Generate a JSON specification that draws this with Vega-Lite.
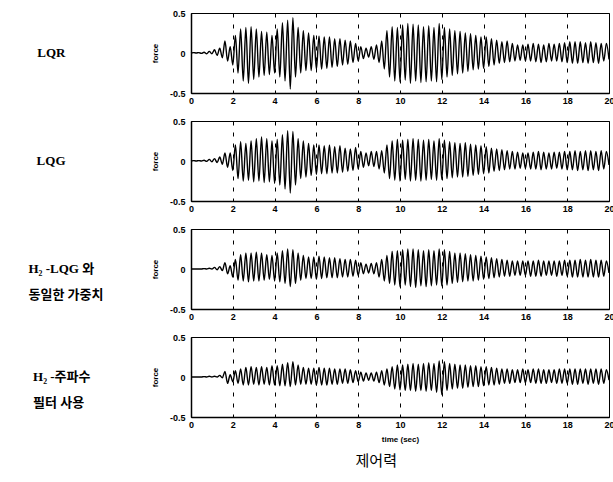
{
"$schema":"https://vega.github.io/schema/vega-lite/v6.json",
"padding":{"left":27,"top":8,"right":0,"bottom":0},
"background":"white",
"config":{
 "view":{"stroke":"black","strokeWidth":1},
 "axis":{"domainColor":"black","domainWidth":1.5,"ticks":false,"labelFont":"Liberation Sans","labelFontWeight":"bold","labelFontSize":9,"labelColor":"black","titleFont":"Liberation Sans","titleFontWeight":"bold","titleFontSize":8,"titleColor":"black"},
 "concat":{"spacing":10}
},
"data":{"values":[
{"t":0,"a":0,"b":0,"c":0,"d":0},
{"t":0.125,"a":0.005,"b":0.005,"c":0,"d":0},
{"t":0.25,"a":0,"b":0,"c":0,"d":0},
{"t":0.375,"a":0.005,"b":0.005,"c":0,"d":0},
{"t":0.5,"a":-0.005,"b":0,"c":0,"d":0},
{"t":0.625,"a":0.01,"b":0.01,"c":0.005,"d":0.005},
{"t":0.75,"a":-0.01,"b":-0.005,"c":0,"d":0},
{"t":0.875,"a":0.02,"b":0.02,"c":0.01,"d":0.01},
{"t":1,"a":-0.01,"b":-0.01,"c":0,"d":0},
{"t":1.125,"a":0.04,"b":0.03,"c":0.02,"d":0.01},
{"t":1.25,"a":-0.03,"b":-0.02,"c":-0.01,"d":0},
{"t":1.375,"a":0.06,"b":0.05,"c":0.03,"d":0.02},
{"t":1.5,"a":-0.06,"b":-0.04,"c":-0.02,"d":-0.01},
{"t":1.625,"a":0.15,"b":0.1,"c":0.08,"d":0.07},
{"t":1.75,"a":-0.1,"b":-0.08,"c":-0.06,"d":-0.08},
{"t":1.875,"a":0.08,"b":0.1,"c":0.04,"d":0.03},
{"t":2,"a":-0.15,"b":-0.12,"c":-0.1,"d":-0.06},
{"t":2.125,"a":0.22,"b":0.2,"c":0.12,"d":0.08},
{"t":2.25,"a":-0.25,"b":-0.22,"c":-0.14,"d":-0.08},
{"t":2.375,"a":0.3,"b":0.24,"c":0.18,"d":0.1},
{"t":2.5,"a":-0.35,"b":-0.25,"c":-0.15,"d":-0.1},
{"t":2.625,"a":0.32,"b":0.22,"c":0.2,"d":0.12},
{"t":2.75,"a":-0.38,"b":-0.24,"c":-0.16,"d":-0.1},
{"t":2.875,"a":0.33,"b":0.25,"c":0.2,"d":0.13},
{"t":3,"a":-0.33,"b":-0.26,"c":-0.15,"d":-0.09},
{"t":3.125,"a":0.3,"b":0.28,"c":0.21,"d":0.12},
{"t":3.25,"a":-0.3,"b":-0.25,"c":-0.15,"d":-0.1},
{"t":3.375,"a":0.27,"b":0.3,"c":0.2,"d":0.13},
{"t":3.5,"a":-0.28,"b":-0.27,"c":-0.14,"d":-0.09},
{"t":3.625,"a":0.26,"b":0.28,"c":0.18,"d":0.12},
{"t":3.75,"a":-0.27,"b":-0.26,"c":-0.13,"d":-0.1},
{"t":3.875,"a":0.22,"b":0.25,"c":0.17,"d":0.14},
{"t":4,"a":-0.25,"b":-0.28,"c":-0.15,"d":-0.1},
{"t":4.125,"a":0.3,"b":0.27,"c":0.2,"d":0.14},
{"t":4.25,"a":-0.3,"b":-0.3,"c":-0.16,"d":-0.11},
{"t":4.375,"a":0.38,"b":0.33,"c":0.23,"d":0.16},
{"t":4.5,"a":-0.35,"b":-0.35,"c":-0.18,"d":-0.11},
{"t":4.625,"a":0.41,"b":0.38,"c":0.25,"d":0.18},
{"t":4.75,"a":-0.45,"b":-0.4,"c":-0.22,"d":-0.12},
{"t":4.875,"a":0.44,"b":0.37,"c":0.24,"d":0.19},
{"t":5,"a":-0.3,"b":-0.3,"c":-0.18,"d":-0.1},
{"t":5.125,"a":0.32,"b":0.28,"c":0.2,"d":0.15},
{"t":5.25,"a":-0.25,"b":-0.22,"c":-0.14,"d":-0.09},
{"t":5.375,"a":0.28,"b":0.25,"c":0.17,"d":0.12},
{"t":5.5,"a":-0.22,"b":-0.2,"c":-0.12,"d":-0.09},
{"t":5.625,"a":0.25,"b":0.22,"c":0.15,"d":0.11},
{"t":5.75,"a":-0.22,"b":-0.18,"c":-0.12,"d":-0.09},
{"t":5.875,"a":0.22,"b":0.2,"c":0.15,"d":0.11},
{"t":6,"a":-0.2,"b":-0.17,"c":-0.13,"d":-0.1},
{"t":6.125,"a":0.21,"b":0.2,"c":0.16,"d":0.12},
{"t":6.25,"a":-0.2,"b":-0.16,"c":-0.12,"d":-0.1},
{"t":6.375,"a":0.2,"b":0.19,"c":0.15,"d":0.11},
{"t":6.5,"a":-0.19,"b":-0.16,"c":-0.11,"d":-0.1},
{"t":6.625,"a":0.2,"b":0.2,"c":0.14,"d":0.11},
{"t":6.75,"a":-0.18,"b":-0.15,"c":-0.11,"d":-0.09},
{"t":6.875,"a":0.18,"b":0.18,"c":0.14,"d":0.1},
{"t":7,"a":-0.17,"b":-0.15,"c":-0.11,"d":-0.09},
{"t":7.125,"a":0.18,"b":0.19,"c":0.13,"d":0.1},
{"t":7.25,"a":-0.15,"b":-0.14,"c":-0.1,"d":-0.08},
{"t":7.375,"a":0.16,"b":0.16,"c":0.12,"d":0.1},
{"t":7.5,"a":-0.14,"b":-0.13,"c":-0.1,"d":-0.08},
{"t":7.625,"a":0.15,"b":0.15,"c":0.12,"d":0.09},
{"t":7.75,"a":-0.12,"b":-0.12,"c":-0.09,"d":-0.07},
{"t":7.875,"a":0.12,"b":0.17,"c":0.11,"d":0.08},
{"t":8,"a":-0.1,"b":-0.1,"c":-0.08,"d":-0.06},
{"t":8.125,"a":0.08,"b":0.12,"c":0.08,"d":0.06},
{"t":8.25,"a":-0.07,"b":-0.08,"c":-0.06,"d":-0.05},
{"t":8.375,"a":0.06,"b":0.1,"c":0.06,"d":0.05},
{"t":8.5,"a":-0.05,"b":-0.06,"c":-0.05,"d":-0.04},
{"t":8.625,"a":0.08,"b":0.12,"c":0.07,"d":0.05},
{"t":8.75,"a":-0.08,"b":-0.07,"c":-0.06,"d":-0.05},
{"t":8.875,"a":0.1,"b":0.12,"c":0.08,"d":0.06},
{"t":9,"a":-0.12,"b":-0.1,"c":-0.1,"d":-0.07},
{"t":9.125,"a":0.15,"b":0.13,"c":0.12,"d":0.08},
{"t":9.25,"a":-0.2,"b":-0.15,"c":-0.15,"d":-0.1},
{"t":9.375,"a":0.28,"b":0.2,"c":0.17,"d":0.1},
{"t":9.5,"a":-0.3,"b":-0.22,"c":-0.18,"d":-0.12},
{"t":9.625,"a":0.33,"b":0.25,"c":0.22,"d":0.13},
{"t":9.75,"a":-0.35,"b":-0.24,"c":-0.2,"d":-0.15},
{"t":9.875,"a":0.32,"b":0.27,"c":0.23,"d":0.15},
{"t":10,"a":-0.36,"b":-0.25,"c":-0.22,"d":-0.16},
{"t":10.125,"a":0.35,"b":0.26,"c":0.24,"d":0.15},
{"t":10.25,"a":-0.34,"b":-0.23,"c":-0.2,"d":-0.17},
{"t":10.375,"a":0.37,"b":0.27,"c":0.25,"d":0.16},
{"t":10.5,"a":-0.38,"b":-0.25,"c":-0.22,"d":-0.17},
{"t":10.625,"a":0.36,"b":0.28,"c":0.25,"d":0.17},
{"t":10.75,"a":-0.35,"b":-0.24,"c":-0.23,"d":-0.18},
{"t":10.875,"a":0.35,"b":0.27,"c":0.24,"d":0.16},
{"t":11,"a":-0.37,"b":-0.25,"c":-0.21,"d":-0.17},
{"t":11.125,"a":0.33,"b":0.26,"c":0.23,"d":0.17},
{"t":11.25,"a":-0.36,"b":-0.24,"c":-0.22,"d":-0.18},
{"t":11.375,"a":0.34,"b":0.27,"c":0.24,"d":0.18},
{"t":11.5,"a":-0.35,"b":-0.23,"c":-0.21,"d":-0.17},
{"t":11.625,"a":0.32,"b":0.25,"c":0.23,"d":0.17},
{"t":11.75,"a":-0.36,"b":-0.24,"c":-0.2,"d":-0.19},
{"t":11.875,"a":0.37,"b":0.28,"c":0.25,"d":0.2},
{"t":12,"a":-0.33,"b":-0.23,"c":-0.21,"d":-0.22},
{"t":12.125,"a":0.32,"b":0.26,"c":0.24,"d":0.19},
{"t":12.25,"a":-0.3,"b":-0.22,"c":-0.2,"d":-0.17},
{"t":12.375,"a":0.3,"b":0.24,"c":0.22,"d":0.17},
{"t":12.5,"a":-0.28,"b":-0.21,"c":-0.18,"d":-0.15},
{"t":12.625,"a":0.28,"b":0.23,"c":0.2,"d":0.16},
{"t":12.75,"a":-0.26,"b":-0.2,"c":-0.17,"d":-0.14},
{"t":12.875,"a":0.27,"b":0.22,"c":0.2,"d":0.15},
{"t":13,"a":-0.25,"b":-0.2,"c":-0.16,"d":-0.14},
{"t":13.125,"a":0.25,"b":0.23,"c":0.19,"d":0.15},
{"t":13.25,"a":-0.23,"b":-0.19,"c":-0.15,"d":-0.13},
{"t":13.375,"a":0.24,"b":0.21,"c":0.18,"d":0.14},
{"t":13.5,"a":-0.21,"b":-0.18,"c":-0.15,"d":-0.12},
{"t":13.625,"a":0.22,"b":0.2,"c":0.17,"d":0.14},
{"t":13.75,"a":-0.2,"b":-0.17,"c":-0.14,"d":-0.12},
{"t":13.875,"a":0.2,"b":0.19,"c":0.16,"d":0.13},
{"t":14,"a":-0.19,"b":-0.16,"c":-0.13,"d":-0.11},
{"t":14.125,"a":0.2,"b":0.18,"c":0.15,"d":0.13},
{"t":14.25,"a":-0.17,"b":-0.15,"c":-0.12,"d":-0.1},
{"t":14.375,"a":0.18,"b":0.16,"c":0.14,"d":0.12},
{"t":14.5,"a":-0.15,"b":-0.13,"c":-0.11,"d":-0.1},
{"t":14.625,"a":0.16,"b":0.15,"c":0.13,"d":0.11},
{"t":14.75,"a":-0.13,"b":-0.12,"c":-0.1,"d":-0.09},
{"t":14.875,"a":0.14,"b":0.14,"c":0.12,"d":0.1},
{"t":15,"a":-0.12,"b":-0.11,"c":-0.09,"d":-0.08},
{"t":15.125,"a":0.15,"b":0.13,"c":0.11,"d":0.1},
{"t":15.25,"a":-0.11,"b":-0.1,"c":-0.09,"d":-0.08},
{"t":15.375,"a":0.12,"b":0.12,"c":0.1,"d":0.09},
{"t":15.5,"a":-0.1,"b":-0.1,"c":-0.08,"d":-0.07},
{"t":15.625,"a":0.1,"b":0.11,"c":0.1,"d":0.09},
{"t":15.75,"a":-0.09,"b":-0.09,"c":-0.08,"d":-0.07},
{"t":15.875,"a":0.1,"b":0.1,"c":0.1,"d":0.1},
{"t":16,"a":-0.1,"b":-0.09,"c":-0.08,"d":-0.07},
{"t":16.125,"a":0.11,"b":0.1,"c":0.1,"d":0.09},
{"t":16.25,"a":-0.1,"b":-0.1,"c":-0.09,"d":-0.07},
{"t":16.375,"a":0.12,"b":0.11,"c":0.1,"d":0.1},
{"t":16.5,"a":-0.11,"b":-0.1,"c":-0.09,"d":-0.08},
{"t":16.625,"a":0.11,"b":0.12,"c":0.11,"d":0.1},
{"t":16.75,"a":-0.12,"b":-0.11,"c":-0.09,"d":-0.08},
{"t":16.875,"a":0.1,"b":0.11,"c":0.1,"d":0.09},
{"t":17,"a":-0.11,"b":-0.1,"c":-0.08,"d":-0.08},
{"t":17.125,"a":0.12,"b":0.1,"c":0.1,"d":0.09},
{"t":17.25,"a":-0.1,"b":-0.1,"c":-0.08,"d":-0.07},
{"t":17.375,"a":0.11,"b":0.11,"c":0.1,"d":0.09},
{"t":17.5,"a":-0.1,"b":-0.09,"c":-0.09,"d":-0.08},
{"t":17.625,"a":0.12,"b":0.11,"c":0.1,"d":0.1},
{"t":17.75,"a":-0.11,"b":-0.1,"c":-0.08,"d":-0.08},
{"t":17.875,"a":0.13,"b":0.12,"c":0.11,"d":0.1},
{"t":18,"a":-0.12,"b":-0.11,"c":-0.09,"d":-0.08},
{"t":18.125,"a":0.14,"b":0.12,"c":0.11,"d":0.1},
{"t":18.25,"a":-0.13,"b":-0.11,"c":-0.1,"d":-0.09},
{"t":18.375,"a":0.14,"b":0.13,"c":0.11,"d":0.1},
{"t":18.5,"a":-0.13,"b":-0.12,"c":-0.1,"d":-0.09},
{"t":18.625,"a":0.14,"b":0.12,"c":0.12,"d":0.1},
{"t":18.75,"a":-0.12,"b":-0.11,"c":-0.1,"d":-0.08},
{"t":18.875,"a":0.13,"b":0.13,"c":0.11,"d":0.1},
{"t":19,"a":-0.13,"b":-0.12,"c":-0.1,"d":-0.09},
{"t":19.125,"a":0.14,"b":0.13,"c":0.12,"d":0.1},
{"t":19.25,"a":-0.12,"b":-0.11,"c":-0.1,"d":-0.08},
{"t":19.375,"a":0.13,"b":0.12,"c":0.11,"d":0.1},
{"t":19.5,"a":-0.13,"b":-0.12,"c":-0.1,"d":-0.09},
{"t":19.625,"a":0.12,"b":0.13,"c":0.11,"d":0.1},
{"t":19.75,"a":-0.1,"b":-0.1,"c":-0.09,"d":-0.08},
{"t":19.875,"a":0.12,"b":0.12,"c":0.1,"d":0.09},
{"t":20,"a":-0.08,"b":-0.05,"c":-0.05,"d":-0.04}
]},
"transform":[{"fold":["a","b","c","d"],"as":["s","v"]}],
"title":{"text":"제어력","orient":"bottom","anchor":"middle","dx":55,"offset":10,"font":"Noto Sans CJK KR","fontSize":15,"fontWeight":"normal","color":"black"},
"vconcat":[
{"width":418,"height":80,
 "title":{"text":"LQR","orient":"left","angle":0,"align":"left","baseline":"middle","anchor":"middle","offset":86,"font":"Liberation Serif","fontSize":13,"fontWeight":"bold","color":"black"},
 "transform":[{"filter":"datum.s == 'a'"}],
 "mark":{"type":"line","color":"black","strokeWidth":1.4,"interpolate":"monotone"},
 "encoding":{
  "x":{"field":"t","type":"quantitative","scale":{"domain":[0,20],"nice":false},"axis":{"values":[0,2,4,6,8,10,12,14,16,18,20],"format":"d","title":null,"grid":true,"gridColor":"black","gridDash":[4,7],"gridOpacity":1,"labelPadding":3,"labelFlush":false}},
  "y":{"field":"v","type":"quantitative","scale":{"domain":[-0.5,0.5],"nice":false},"axis":{"values":[-0.5,0,0.5],"grid":false,"title":"force","titlePadding":10,"labelPadding":6,"labelExpr":"datum.value == 0 ? '0' : (datum.value < 0 ? '-0.5' : '0.5')"}}
 }},
{"width":418,"height":80,
 "title":{"text":"LQG","orient":"left","angle":0,"align":"left","baseline":"middle","anchor":"middle","offset":86,"font":"Liberation Serif","fontSize":13,"fontWeight":"bold","color":"black"},
 "transform":[{"filter":"datum.s == 'b'"}],
 "mark":{"type":"line","color":"black","strokeWidth":1.4,"interpolate":"monotone"},
 "encoding":{
  "x":{"field":"t","type":"quantitative","scale":{"domain":[0,20],"nice":false},"axis":{"values":[0,2,4,6,8,10,12,14,16,18,20],"format":"d","title":null,"grid":true,"gridColor":"black","gridDash":[4,7],"gridOpacity":1,"labelPadding":3,"labelFlush":false}},
  "y":{"field":"v","type":"quantitative","scale":{"domain":[-0.5,0.5],"nice":false},"axis":{"values":[-0.5,0,0.5],"grid":false,"title":"force","titlePadding":10,"labelPadding":6,"labelExpr":"datum.value == 0 ? '0' : (datum.value < 0 ? '-0.5' : '0.5')"}}
 }},
{"width":418,"height":80,
 "title":{"text":["H₂ -LQG 와","동일한 가중치"],"orient":"left","angle":0,"align":"left","baseline":"middle","anchor":"middle","offset":48,"lineHeight":26,"font":"Liberation Serif, Noto Sans CJK KR","fontSize":13,"fontWeight":"bold","color":"black"},
 "transform":[{"filter":"datum.s == 'c'"}],
 "mark":{"type":"line","color":"black","strokeWidth":1.4,"interpolate":"monotone"},
 "encoding":{
  "x":{"field":"t","type":"quantitative","scale":{"domain":[0,20],"nice":false},"axis":{"values":[0,2,4,6,8,10,12,14,16,18,20],"format":"d","title":null,"grid":true,"gridColor":"black","gridDash":[4,7],"gridOpacity":1,"labelPadding":3,"labelFlush":false}},
  "y":{"field":"v","type":"quantitative","scale":{"domain":[-0.5,0.5],"nice":false},"axis":{"values":[-0.5,0,0.5],"grid":false,"title":"force","titlePadding":10,"labelPadding":6,"labelExpr":"datum.value == 0 ? '0' : (datum.value < 0 ? '-0.5' : '0.5')"}}
 }},
{"width":418,"height":80,
 "title":{"text":["H₂ -주파수","필터 사용"],"orient":"left","angle":0,"align":"left","baseline":"middle","anchor":"middle","offset":61,"lineHeight":26,"font":"Liberation Serif, Noto Sans CJK KR","fontSize":13,"fontWeight":"bold","color":"black"},
 "transform":[{"filter":"datum.s == 'd'"}],
 "mark":{"type":"line","color":"black","strokeWidth":1.4,"interpolate":"monotone"},
 "encoding":{
  "x":{"field":"t","type":"quantitative","scale":{"domain":[0,20],"nice":false},"axis":{"values":[0,2,4,6,8,10,12,14,16,18,20],"format":"d","title":"time (sec)","titlePadding":6,"grid":true,"gridColor":"black","gridDash":[4,7],"gridOpacity":1,"labelPadding":3,"labelFlush":false}},
  "y":{"field":"v","type":"quantitative","scale":{"domain":[-0.5,0.5],"nice":false},"axis":{"values":[-0.5,0,0.5],"grid":false,"title":"force","titlePadding":10,"labelPadding":6,"labelExpr":"datum.value == 0 ? '0' : (datum.value < 0 ? '-0.5' : '0.5')"}}
 }}
]
}
